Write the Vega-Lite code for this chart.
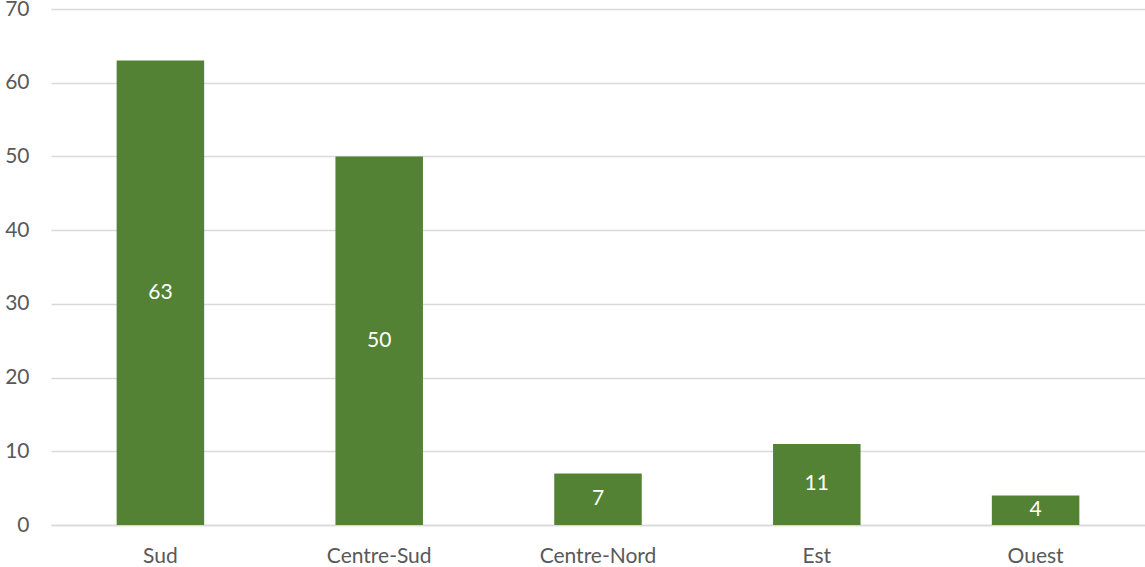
{
  "$schema": "https://vega.github.io/schema/vega-lite/v6.json",
  "autosize": {"type": "none"},
  "width": 1094,
  "height": 516,
  "padding": {"left": 51, "top": 9, "right": 0, "bottom": 42},
  "background": "white",
  "config": {
    "view": {"stroke": null},
    "font": "Lato"
  },
  "data": {
    "values": [
      {"region": "Sud", "value": 63},
      {"region": "Centre-Sud", "value": 50},
      {"region": "Centre-Nord", "value": 7},
      {"region": "Est", "value": 11},
      {"region": "Ouest", "value": 4}
    ]
  },
  "encoding": {
    "x": {
      "field": "region",
      "type": "nominal",
      "sort": null,
      "scale": {"paddingInner": 0.6, "paddingOuter": 0.3},
      "axis": {
        "title": null,
        "labelAngle": 0,
        "labelFont": "Lato",
        "labelFontSize": 21,
        "labelColor": "#595959",
        "labelPadding": 20,
        "ticks": false,
        "domainColor": "#d9d9d9",
        "domainWidth": 1.5,
        "grid": false
      }
    }
  },
  "layer": [
    {
      "mark": {"type": "bar", "color": "#548235"},
      "encoding": {
        "y": {
          "field": "value",
          "type": "quantitative",
          "scale": {"domain": [0, 70], "nice": false},
          "axis": {
            "title": null,
            "values": [0, 10, 20, 30, 40, 50, 60, 70],
            "labelFont": "Lato",
            "labelFontSize": 21,
            "labelColor": "#595959",
            "labelPadding": 22,
            "ticks": false,
            "domain": false,
            "grid": true,
            "gridColor": "#d9d9d9",
            "gridWidth": 1.5
          }
        }
      }
    },
    {
      "mark": {"type": "text", "color": "white", "fontSize": 21, "font": "Lato", "baseline": "middle", "align": "center"},
      "encoding": {
        "y": {
          "field": "value",
          "type": "quantitative",
          "scale": {"domain": [0, 140], "nice": false},
          "axis": null
        },
        "text": {"field": "value", "type": "quantitative"}
      }
    }
  ],
  "resolve": {"scale": {"y": "independent"}}
}
